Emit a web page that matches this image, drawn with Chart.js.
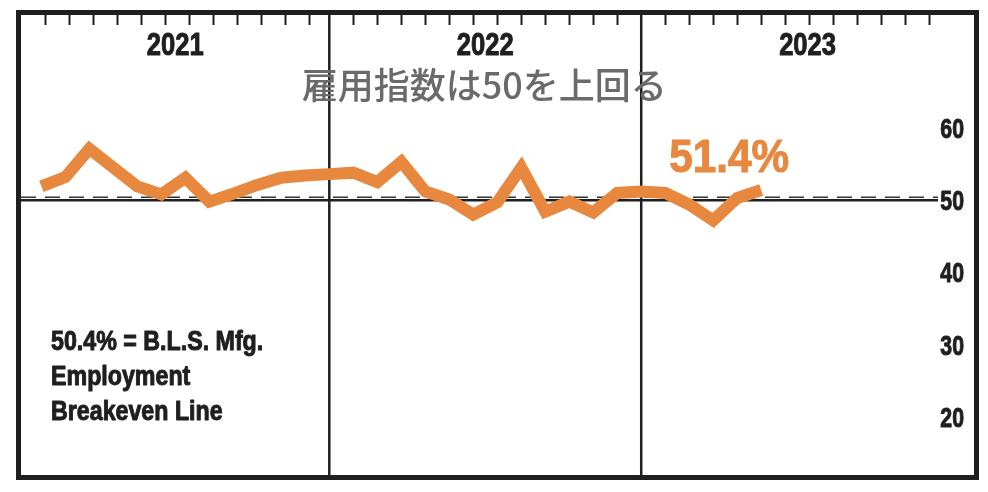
<!DOCTYPE html>
<html>
<head>
<meta charset="utf-8">
<script src="https://cdn.jsdelivr.net/npm/chart.js@4.4.1/dist/chart.umd.min.js"></script>
<style>
  html, body { margin: 0; padding: 0; background: #fff; }
  #wrap { width: 988px; height: 492px; }
</style>
</head>
<body>
<div id="wrap"><canvas id="chart"></canvas></div>
<script>
// monthly index, Jan 2021 .. Jul 2023
const months = [
  '2021-01','2021-02','2021-03','2021-04','2021-05','2021-06','2021-07','2021-08','2021-09','2021-10','2021-11','2021-12',
  '2022-01','2022-02','2022-03','2022-04','2022-05','2022-06','2022-07','2022-08','2022-09','2022-10','2022-11','2022-12',
  '2023-01','2023-02','2023-03','2023-04','2023-05','2023-06','2023-07'
];
const values = [
  51.9, 53.2, 57.1, 54.5, 51.9, 50.8, 53.1, 49.8, 50.9, 52.1, 53.1, 53.4,
  53.6, 53.8, 52.5, 55.3, 51.2, 50.1, 48.0, 49.7, 54.5, 48.4, 49.8, 48.3,
  51.0, 51.2, 51.0, 49.4, 47.2, 50.3, 51.4
];
const years = ['2021', '2022', '2023'];
const yearBreaks = [12, 25];          // month index where a new year panel starts (the divider)
const yTicks = [20, 30, 40, 50, 60];
const baseline = 50;
const breakeven = 50.4;
const title = '雇用指数は50を上回る';
const lastLabel = '51.4%';
const noteLines = ['50.4% = B.L.S. Mfg.', 'Employment', 'Breakeven Line'];

const ORANGE = '#e8873e';
const INK = '#1f1f1f';
const SANS = '"Liberation Sans", Arial, sans-serif';

const points = values.map((v, i) => ({ x: i, y: v }));

// no condensed font installed, so squeeze a bold sans horizontally
// and give it a hairline stroke to get closer to the heavy original
function narrowText(ctx, text, x, y, size, sx, align, color) {
  ctx.save();
  ctx.translate(x, y);
  ctx.scale(sx, 1);
  ctx.font = 'bold ' + size + 'px ' + SANS;
  ctx.textAlign = align;
  ctx.textBaseline = 'alphabetic';
  ctx.fillStyle = color;
  ctx.strokeStyle = color;
  ctx.lineWidth = 1;
  ctx.lineJoin = 'round';
  ctx.fillText(text, 0, 0);
  ctx.strokeText(text, 0, 0);
  ctx.restore();
}

const decor = {
  id: 'decor',
  beforeDatasetsDraw(chart) {
    const { ctx, chartArea: a, scales: { x, y } } = chart;
    ctx.save();

    // breakeven (dashed) and 50 line (solid)
    const lineEnd = a.right - 36;
    ctx.strokeStyle = '#333';
    ctx.lineWidth = 1.5;
    ctx.setLineDash([15, 9]);
    ctx.beginPath();
    ctx.moveTo(a.left, y.getPixelForValue(breakeven));
    ctx.lineTo(lineEnd, y.getPixelForValue(breakeven));
    ctx.stroke();
    ctx.setLineDash([]);
    ctx.strokeStyle = INK;
    ctx.lineWidth = 2.5;
    ctx.beginPath();
    ctx.moveTo(a.left, y.getPixelForValue(baseline));
    ctx.lineTo(lineEnd, y.getPixelForValue(baseline));
    ctx.stroke();

    // year dividers
    ctx.lineWidth = 2.5;
    yearBreaks.forEach(b => {
      const px = x.getPixelForValue(b);
      ctx.beginPath();
      ctx.moveTo(px, a.top);
      ctx.lineTo(px, a.bottom);
      ctx.stroke();
    });

    // month ticks along the top + year labels
    const starts = [x.min].concat(yearBreaks);
    const ends = yearBreaks.concat([x.max]);
    ctx.lineWidth = 2;
    starts.forEach((s, i) => {
      for (let k = 1; k <= 12; k++) {
        const v = s + k;
        if (v >= ends[i] - 0.3) break;
        const px = Math.round(x.getPixelForValue(v)) + 0.5;
        ctx.beginPath();
        ctx.moveTo(px, a.top);
        ctx.lineTo(px, a.top + 10);
        ctx.stroke();
      }
      const cx = (x.getPixelForValue(s) + x.getPixelForValue(ends[i])) / 2;
      narrowText(ctx, years[i], cx, a.top + 40, 32, 0.8, 'center', INK);
    });

    // y labels on the right, inside the frame
    yTicks.forEach(t => narrowText(ctx, String(t), a.right - 10, y.getPixelForValue(t) + 10, 28, 0.76, 'right', INK));

    // title
    ctx.fillStyle = '#6a6a6a';
    ctx.font = '500 36px "Noto Sans CJK JP", sans-serif';
    ctx.textAlign = 'center';
    ctx.textBaseline = 'middle';
    ctx.fillText(title, x.getPixelForValue(yearBreaks[0]) + 155, a.top + 70);

    // note, lower left
    noteLines.forEach((t, i) => narrowText(ctx, t, a.left + 30, a.top + 335 + i * 35, 27, 0.86, 'left', INK));

    ctx.restore();
  },
  afterDraw(chart) {
    const { ctx, chartArea: a } = chart;
    const meta = chart.getDatasetMeta(0);
    const last = meta.data[meta.data.length - 1];
    ctx.save();
    narrowText(ctx, lastLabel, last.x - 32, last.y - 18, 47, 0.9, 'center', ORANGE);

    // frame
    ctx.strokeStyle = INK;
    ctx.lineWidth = 5;
    ctx.strokeRect(a.left - 2.5, a.top - 2.5, a.right - a.left + 5, a.bottom - a.top + 5);
    ctx.restore();
  }
};

new Chart(document.getElementById('chart'), {
  type: 'line',
  data: {
    labels: months,
    datasets: [{
      data: points,
      borderColor: ORANGE,
      borderWidth: 12,
      borderJoinStyle: 'miter',
      borderCapStyle: 'butt',
      pointRadius: 0,
      tension: 0,
      fill: false
    }]
  },
  options: {
    responsive: true,
    maintainAspectRatio: false,
    animation: false,
    events: [],
    layout: { padding: { left: 21, right: 14, top: 15, bottom: 17 } },
    plugins: { legend: { display: false }, tooltip: { enabled: false } },
    scales: {
      x: { type: 'linear', min: -0.85, max: 38.87, display: false },
      y: { min: 12, max: 75.6, display: false }
    }
  },
  plugins: [decor]
});
</script>
</body>
</html>
